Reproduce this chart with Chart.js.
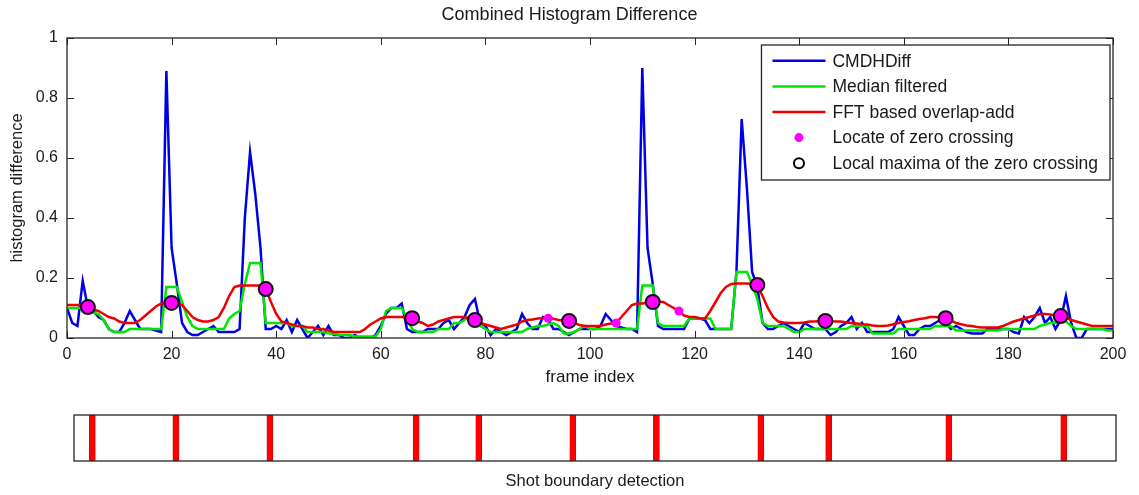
<!DOCTYPE html>
<html>
<head>
<meta charset="utf-8">
<script src="https://cdn.jsdelivr.net/npm/chart.js@4.4.1/dist/chart.umd.min.js"></script>
<style>
html,body{margin:0;padding:0;background:#fff;}
canvas{display:block;}
</style>
</head>
<body>
<canvas id="topChart" width="1139" height="395"></canvas>
<canvas id="bottomChart" width="1139" height="100"></canvas>
<script>
// ---- data ----
const frameIndex = Array.from({length: 201}, (_, i) => i);

const cmdhDiff = [
  0.10, 0.05, 0.04, 0.19, 0.10, 0.09, 0.07, 0.06, 0.03, 0.02,
  0.02, 0.05, 0.09, 0.06, 0.03, 0.03, 0.03, 0.025, 0.02, 0.89,
  0.30, 0.18, 0.05, 0.02, 0.01, 0.01, 0.02, 0.03, 0.04, 0.02,
  0.02, 0.02, 0.02, 0.03, 0.40, 0.62, 0.48, 0.30, 0.03, 0.03,
  0.04, 0.03, 0.06, 0.02, 0.06, 0.03, 0.00, 0.02, 0.04, 0.01,
  0.04, 0.01, 0.01, 0.00, 0.00, 0.01, 0.00, 0.00, 0.00, 0.01,
  0.04, 0.08, 0.10, 0.10, 0.115, 0.03, 0.02, 0.02, 0.02, 0.03,
  0.03, 0.03, 0.05, 0.06, 0.03, 0.05, 0.07, 0.11, 0.13, 0.05,
  0.04, 0.01, 0.03, 0.02, 0.01, 0.02, 0.03, 0.08, 0.05, 0.03,
  0.03, 0.07, 0.06, 0.03, 0.03, 0.02, 0.01, 0.02, 0.03, 0.03,
  0.03, 0.03, 0.04, 0.08, 0.06, 0.04, 0.035, 0.03, 0.03, 0.02,
  0.90, 0.30, 0.18, 0.04, 0.03, 0.03, 0.03, 0.03, 0.03, 0.065,
  0.066, 0.065, 0.06, 0.03, 0.03, 0.03, 0.03, 0.03, 0.22, 0.73,
  0.50, 0.22, 0.17, 0.05, 0.03, 0.03, 0.04, 0.05, 0.04, 0.03,
  0.02, 0.05, 0.04, 0.03, 0.03, 0.03, 0.01, 0.02, 0.04, 0.05,
  0.07, 0.03, 0.05, 0.02, 0.02, 0.02, 0.02, 0.02, 0.03, 0.07,
  0.04, 0.01, 0.01, 0.03, 0.04, 0.04, 0.05, 0.06, 0.05, 0.03,
  0.04, 0.03, 0.02, 0.015, 0.015, 0.015, 0.03, 0.03, 0.03, 0.03,
  0.03, 0.02, 0.015, 0.07, 0.05, 0.07, 0.10, 0.05, 0.07, 0.03,
  0.06, 0.14, 0.05, 0.00, 0.00, 0.03, 0.03, 0.03, 0.03, 0.03, 0.03
];

const medianFiltered = [
  0.10, 0.10, 0.10, 0.10, 0.09, 0.085, 0.08, 0.06, 0.03, 0.02,
  0.02, 0.02, 0.03, 0.03, 0.03, 0.03, 0.03, 0.03, 0.03, 0.17,
  0.17, 0.17, 0.12, 0.07, 0.04, 0.03, 0.03, 0.03, 0.03, 0.03,
  0.03, 0.065, 0.08, 0.09, 0.18, 0.25, 0.25, 0.25, 0.05, 0.05,
  0.05, 0.05, 0.05, 0.04, 0.04, 0.04, 0.02, 0.02, 0.02, 0.02,
  0.015, 0.015, 0.01, 0.01, 0.01, 0.005, 0.005, 0.005, 0.005, 0.005,
  0.03, 0.09, 0.10, 0.10, 0.10, 0.065, 0.03, 0.02, 0.02, 0.02,
  0.02, 0.03, 0.03, 0.03, 0.05, 0.05, 0.06, 0.07, 0.06, 0.04,
  0.03, 0.02, 0.02, 0.02, 0.02, 0.02, 0.02, 0.02, 0.03, 0.035,
  0.04, 0.04, 0.045, 0.05, 0.04, 0.015, 0.015, 0.02, 0.03, 0.04,
  0.03, 0.03, 0.03, 0.03, 0.03, 0.03, 0.03, 0.03, 0.03, 0.03,
  0.175, 0.175, 0.175, 0.05, 0.04, 0.04, 0.04, 0.04, 0.04, 0.065,
  0.065, 0.065, 0.065, 0.065, 0.03, 0.03, 0.03, 0.03, 0.22, 0.22,
  0.22, 0.18, 0.13, 0.05, 0.04, 0.04, 0.04, 0.04, 0.03, 0.02,
  0.02, 0.03, 0.03, 0.03, 0.03, 0.03, 0.03, 0.03, 0.03, 0.03,
  0.04, 0.04, 0.04, 0.04, 0.015, 0.015, 0.015, 0.015, 0.015, 0.03,
  0.03, 0.03, 0.03, 0.03, 0.03, 0.03, 0.04, 0.04, 0.04, 0.04,
  0.025, 0.025, 0.025, 0.025, 0.025, 0.025, 0.025, 0.025, 0.025, 0.03,
  0.03, 0.03, 0.03, 0.03, 0.03, 0.03, 0.04, 0.045, 0.05, 0.05,
  0.055, 0.055, 0.04, 0.03, 0.03, 0.03, 0.03, 0.03, 0.03, 0.025, 0.025
];

const fftOverlapAdd = [
  0.11, 0.11, 0.11, 0.11, 0.103, 0.095, 0.09, 0.08, 0.07, 0.065,
  0.055, 0.05, 0.05, 0.05, 0.06, 0.075, 0.09, 0.105, 0.115, 0.115,
  0.117, 0.115, 0.11, 0.09, 0.07, 0.06, 0.055, 0.055, 0.06, 0.07,
  0.10, 0.14, 0.17, 0.175, 0.175, 0.175, 0.175, 0.175, 0.163, 0.12,
  0.08, 0.055, 0.05, 0.045, 0.04, 0.04, 0.035, 0.035, 0.03, 0.03,
  0.025, 0.02, 0.02, 0.02, 0.02, 0.02, 0.02, 0.03, 0.045, 0.055,
  0.065, 0.07, 0.07, 0.07, 0.07, 0.068, 0.066, 0.055, 0.05, 0.04,
  0.045, 0.055, 0.06, 0.065, 0.07, 0.07, 0.07, 0.065, 0.06, 0.05,
  0.045, 0.04, 0.035, 0.03, 0.035, 0.04, 0.045, 0.055, 0.06, 0.062,
  0.065, 0.066, 0.066, 0.064, 0.06, 0.058, 0.057, 0.05, 0.043, 0.04,
  0.04, 0.04, 0.04, 0.045, 0.048, 0.05, 0.07, 0.09, 0.11, 0.115,
  0.115, 0.118, 0.12, 0.122, 0.12, 0.11, 0.10, 0.09, 0.075, 0.07,
  0.07, 0.066, 0.065, 0.09, 0.12, 0.15, 0.17, 0.18, 0.182, 0.182,
  0.182, 0.18, 0.177, 0.14, 0.10, 0.07, 0.055, 0.052, 0.05, 0.05,
  0.05, 0.052, 0.055, 0.055, 0.057, 0.057, 0.056, 0.055, 0.055, 0.052,
  0.05, 0.048, 0.046, 0.045, 0.042, 0.04, 0.04, 0.042, 0.046, 0.05,
  0.053, 0.056, 0.06, 0.063, 0.066, 0.07, 0.07, 0.068, 0.066, 0.058,
  0.05, 0.046, 0.042, 0.04, 0.037, 0.035, 0.035, 0.035, 0.035, 0.04,
  0.048, 0.055, 0.06, 0.065, 0.07, 0.075, 0.08, 0.08, 0.078, 0.075,
  0.073, 0.068, 0.06, 0.055, 0.05, 0.045, 0.04, 0.04, 0.04, 0.04, 0.04
];

const zeroCrossFrames = [92, 105, 117];
const zeroCrossValues = [0.066, 0.05, 0.09];

const maximaFrames = [4, 20, 38, 66, 78, 96, 112, 132, 145, 168, 190];
const maximaValues = [0.103, 0.117, 0.163, 0.066, 0.06, 0.057, 0.12, 0.177, 0.057, 0.066, 0.073];

const xTickValues = [0, 20, 40, 60, 80, 100, 120, 140, 160, 180, 200];
const yTickValues = [0, 0.2, 0.4, 0.6, 0.8, 1];

const seriesLabels = ['CMDHDiff', 'Median filtered', 'FFT based overlap-add',
                      'Locate of zero crossing', 'Local maxima of the zero crossing'];

// ---- styling ----
const FONT = "'Liberation Sans', Arial, Helvetica, sans-serif";
const AXIS = '#262626';
const toXY = (xs, ys) => xs.map((x, i) => ({x: x, y: ys[i]}));

// box + inward ticks (MATLAB style)
const matlabBox = {
  id: 'matlabBox',
  afterDatasetsDraw(chart, args, opts) {
    const {ctx, chartArea: a, scales} = chart;
    ctx.save();
    ctx.strokeStyle = AXIS;
    ctx.lineWidth = 1.3;
    ctx.strokeRect(a.left, a.top, a.right - a.left, a.bottom - a.top);
    if (opts.ticks) {
      ctx.lineWidth = 1;
      ctx.beginPath();
      xTickValues.forEach(v => {
        const px = Math.round(scales.x.getPixelForValue(v)) + 0.5;
        ctx.moveTo(px, a.bottom); ctx.lineTo(px, a.bottom - 7);
        ctx.moveTo(px, a.top); ctx.lineTo(px, a.top + 7);
      });
      yTickValues.forEach(v => {
        const py = Math.round(scales.y.getPixelForValue(v)) + 0.5;
        ctx.moveTo(a.left, py); ctx.lineTo(a.left + 7, py);
        ctx.moveTo(a.right, py); ctx.lineTo(a.right - 7, py);
      });
      ctx.stroke();
    }
    ctx.restore();
  }
};

// boxed legend in the upper right corner of the plot
const boxLegend = {
  id: 'boxLegend',
  afterDraw(chart) {
    const {ctx, chartArea: a} = chart;
    const ds = chart.data.datasets;
    ctx.save();
    ctx.font = '17.5px ' + FONT;
    const textW = Math.max(...ds.map(d => ctx.measureText(d.label).width));
    const rowH = 25.6, padTop = 3, sampleW = 53;
    const w = 11 + sampleW + 7 + textW + 12;
    const h = padTop * 2 + rowH * ds.length + 1;
    const right = a.right - 3, top = a.top + 7;
    const left = right - w;
    ctx.fillStyle = '#fff';
    ctx.fillRect(left, top, w, h);
    ctx.strokeStyle = AXIS;
    ctx.lineWidth = 1.3;
    ctx.strokeRect(left, top, w, h);
    ds.forEach((d, i) => {
      const cy = top + padTop + rowH * (i + 0.5);
      const sx = left + 11;
      if (d.showLine !== false) {
        ctx.strokeStyle = d.borderColor;
        ctx.lineWidth = d.borderWidth;
        ctx.beginPath(); ctx.moveTo(sx, cy); ctx.lineTo(sx + sampleW, cy); ctx.stroke();
      } else if (d.legendHollow) {
        ctx.strokeStyle = '#000';
        ctx.lineWidth = 2;
        ctx.beginPath(); ctx.arc(sx + sampleW / 2, cy, 5, 0, Math.PI * 2); ctx.stroke();
      } else {
        ctx.fillStyle = d.pointBackgroundColor;
        ctx.beginPath(); ctx.arc(sx + sampleW / 2, cy, 4.5, 0, Math.PI * 2); ctx.fill();
      }
      ctx.fillStyle = '#1a1a1a';
      ctx.textBaseline = 'middle';
      ctx.textAlign = 'left';
      ctx.fillText(d.label, sx + sampleW + 7, cy + 1);
    });
    ctx.restore();
  }
};

new Chart(document.getElementById('topChart'), {
  type: 'line',
  data: {
    datasets: [
      {label: seriesLabels[0], data: toXY(frameIndex, cmdhDiff), borderColor: '#0000e6',
       borderWidth: 2.5, pointRadius: 0, tension: 0, order: 4},
      {label: seriesLabels[1], data: toXY(frameIndex, medianFiltered), borderColor: '#00e600',
       borderWidth: 2.5, pointRadius: 0, tension: 0, order: 3},
      {label: seriesLabels[2], data: toXY(frameIndex, fftOverlapAdd), borderColor: '#ee0000',
       borderWidth: 2.5, pointRadius: 0, tension: 0, order: 2},
      {label: seriesLabels[3], data: toXY(zeroCrossFrames, zeroCrossValues), showLine: false,
       pointRadius: 4.5, pointBackgroundColor: '#ff00ff', pointBorderWidth: 0,
       borderColor: '#ff00ff', order: 1},
      {label: seriesLabels[4], data: toXY(maximaFrames, maximaValues), showLine: false,
       pointRadius: 7, pointBackgroundColor: '#ff00ff', pointBorderColor: '#111',
       pointBorderWidth: 2, borderColor: '#000', legendHollow: true, order: 0}
    ]
  },
  options: {
    responsive: false,
    animation: false,
    devicePixelRatio: 1,
    layout: {padding: {left: 0, right: 0, top: 0, bottom: 0}},
    plugins: {
      legend: {display: false},
      tooltip: {enabled: false},
      title: {display: true, text: 'Combined Histogram Difference', color: '#1a1a1a',
              font: {family: FONT, size: 18, weight: 'normal'}, padding: {top: 4, bottom: 12.4}},
      matlabBox: {ticks: true}
    },
    scales: {
      x: {
        type: 'linear', min: 0, max: 200, offset: false,
        grid: {display: false, drawTicks: false},
        border: {display: false},
        afterBuildTicks: s => { s.ticks = xTickValues.map(v => ({value: v})); },
        ticks: {color: '#1a1a1a', font: {family: FONT, size: 16}, padding: 7,
                autoSkip: false, maxRotation: 0},
        title: {display: true, text: 'frame index', color: '#1a1a1a',
                font: {family: FONT, size: 17}, padding: {top: 0, bottom: 7}},
        afterFit: s => { s.height = 57; }
      },
      y: {
        min: 0, max: 1,
        grid: {display: false, drawTicks: false},
        border: {display: false},
        afterBuildTicks: s => { s.ticks = yTickValues.map(v => ({value: v})); },
        ticks: {color: '#1a1a1a', font: {family: FONT, size: 16}, padding: 9,
                callback: v => String(Math.round(v * 10) / 10)},
        title: {display: true, text: 'histogram difference', color: '#1a1a1a',
                font: {family: FONT, size: 16.5}, padding: {top: 8, bottom: 0}},
        afterFit: s => { s.width = 67; }
      },
      yRight: {
        position: 'right', min: 0, max: 1,
        grid: {display: false, drawTicks: false},
        border: {display: false},
        ticks: {display: false},
        afterFit: s => { s.width = 26; }
      }
    }
  },
  plugins: [matlabBox, boxLegend]
});

new Chart(document.getElementById('bottomChart'), {
  type: 'bar',
  data: {
    datasets: [{
      label: 'Shot boundary',
      data: toXY(maximaFrames, maximaFrames.map(() => 1)),
      backgroundColor: '#ff0000',
      borderColor: '#b00000',
      borderWidth: {top: 0, bottom: 0, left: 0.5, right: 0.5},
      barThickness: 6,
      grouped: false
    }]
  },
  options: {
    responsive: false,
    animation: false,
    devicePixelRatio: 1,
    layout: {padding: {left: 74, right: 23, top: 20, bottom: 0}},
    plugins: {legend: {display: false}, tooltip: {enabled: false}, matlabBox: {ticks: false}},
    scales: {
      x: {
        type: 'linear', min: 0.5, max: 200, offset: false,
        grid: {display: false, drawTicks: false},
        border: {display: false},
        ticks: {display: false},
        title: {display: true, text: 'Shot boundary detection', color: '#1a1a1a',
                font: {family: FONT, size: 16.5}, padding: {top: 0, bottom: 4}},
        afterFit: s => { s.height = 34; }
      },
      y: {display: false, min: 0, max: 1}
    }
  },
  plugins: [matlabBox]
});
</script>
</body>
</html>
